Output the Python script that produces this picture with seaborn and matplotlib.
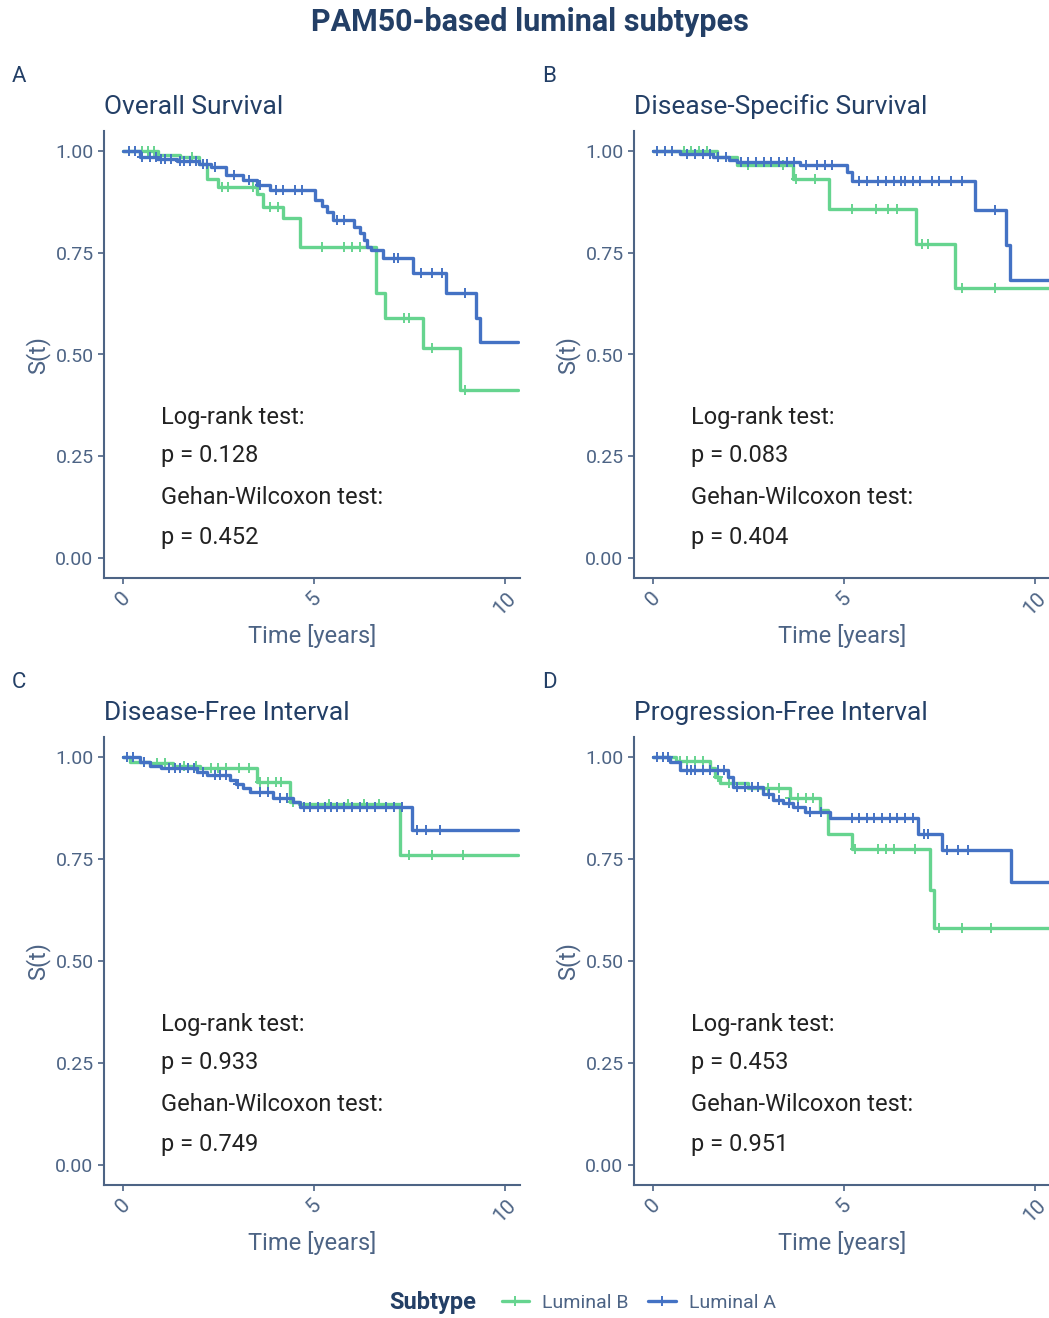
import numpy as np
import seaborn as sns
import matplotlib.pyplot as plt
from matplotlib.lines import Line2D

# ---- data (Kaplan-Meier steps + censor times) ----
os_a_t = [0, 0.45, 0.9, 1.4, 2.0, 2.3, 2.7, 3.15, 3.5, 3.85, 5.03, 5.2, 5.35, 5.5, 6.05, 6.2, 6.3, 6.4, 6.5, 6.8, 7.6, 8.47, 9.26, 9.35, 10.35]
os_a_s = [1.0, 0.986, 0.980, 0.975, 0.970, 0.962, 0.941, 0.929, 0.916, 0.904, 0.880, 0.865, 0.851, 0.830, 0.814, 0.798, 0.781, 0.765, 0.757, 0.737, 0.700, 0.651, 0.590, 0.531, 0.531]
os_a_c = [0.15, 0.3, 0.5, 0.7, 0.85, 1.0, 1.1, 1.25, 1.5, 1.6, 1.75, 1.9, 2.1, 2.2, 2.4, 2.9, 3.3, 3.6, 4.0, 4.2, 4.5, 4.7, 5.6, 5.8, 7.1, 7.2, 7.8, 8.1, 8.35, 8.95]
os_b_t = [0, 0.92, 1.5, 2.0, 2.19, 2.49, 3.5, 3.67, 4.19, 4.63, 6.64, 6.85, 7.86, 8.82, 10.35]
os_b_s = [1.0, 0.990, 0.985, 0.970, 0.933, 0.912, 0.896, 0.863, 0.835, 0.765, 0.651, 0.590, 0.516, 0.413, 0.413]
os_b_c = [0.5, 0.65, 0.8, 1.8, 2.6, 2.75, 3.4, 3.85, 4.05, 5.2, 5.8, 6.0, 6.2, 7.35, 7.5, 8.1, 8.95]

dss_a_t = [0, 0.71, 1.57, 2.0, 2.19, 3.85, 5.07, 5.2, 8.43, 9.26, 9.35, 10.45]
dss_a_s = [1.0, 0.993, 0.986, 0.978, 0.974, 0.966, 0.949, 0.927, 0.855, 0.769, 0.683, 0.683]
dss_a_c = [0.1, 0.3, 0.5, 0.9, 1.1, 1.3, 1.5, 1.7, 1.9, 2.3, 2.5, 2.7, 2.9, 3.1, 3.3, 3.5, 3.7, 4.0, 4.3, 4.5, 4.7,
           5.4, 5.6, 5.9, 6.1, 6.3, 6.5, 6.6, 6.8, 7.0, 7.3, 7.5, 7.8, 8.1, 8.95]
dss_b_t = [0, 1.67, 2.2, 3.67, 4.61, 6.9, 7.9, 10.45]
dss_b_s = [1.0, 0.986, 0.966, 0.933, 0.857, 0.771, 0.663, 0.663]
dss_b_c = [0.8, 1.0, 1.2, 1.4, 2.5, 3.4, 3.75, 4.25, 5.2, 5.85, 6.15, 6.4, 7.05, 7.2, 8.1, 8.97]

dfi_a_t = [0, 0.45, 0.7, 1.0, 1.93, 2.2, 2.8, 2.95, 3.15, 3.32, 3.93, 4.46, 4.63, 7.56, 10.35]
dfi_a_s = [1.0, 0.989, 0.980, 0.973, 0.964, 0.956, 0.944, 0.935, 0.924, 0.915, 0.899, 0.890, 0.878, 0.821, 0.821]
dfi_a_c = [0.1, 0.25, 0.55, 1.2, 1.35, 1.5, 1.7, 1.85, 2.1, 2.4, 2.55, 2.7, 3.0, 3.6, 3.8, 4.1, 4.3, 4.75, 4.9,
           5.1, 5.3, 5.45, 5.6, 5.8, 6.0, 6.2, 6.4, 6.6, 6.9, 7.1, 7.3, 7.7, 7.95, 8.3]
dfi_b_t = [0, 0.18, 0.7, 1.3, 2.02, 3.5, 4.37, 4.6, 7.25, 10.35]
dfi_b_s = [1.0, 0.989, 0.985, 0.980, 0.973, 0.940, 0.890, 0.885, 0.760, 0.760]
dfi_b_c = [0.9, 1.1, 1.6, 1.9, 2.3, 2.5, 2.7, 3.05, 3.3, 3.6, 3.8, 4.0, 4.15, 4.45, 5.4, 5.9, 6.3, 6.7, 7.5, 8.1, 8.9]

pfi_a_t = [0, 0.45, 0.71, 1.97, 2.1, 2.88, 3.15, 3.4, 3.67, 3.98, 4.63, 6.94, 7.56, 9.39, 10.45]
pfi_a_s = [1.0, 0.989, 0.968, 0.952, 0.927, 0.911, 0.895, 0.887, 0.878, 0.866, 0.850, 0.813, 0.772, 0.694, 0.694]
pfi_a_c = [0.1, 0.25, 0.4, 0.9, 1.0, 1.1, 1.3, 1.5, 1.7, 1.85, 2.2, 2.4, 2.6, 2.75, 3.05, 3.3, 3.55, 3.8, 4.1, 4.4,
           5.2, 5.4, 5.6, 5.8, 6.0, 6.2, 6.4, 6.6, 6.8, 7.1, 7.2, 7.7, 8.0, 8.25]
pfi_b_t = [0, 0.6, 1.49, 1.62, 1.75, 2.5, 3.59, 4.37, 4.58, 5.2, 7.25, 7.36, 10.45]
pfi_b_s = [1.0, 0.990, 0.973, 0.952, 0.936, 0.924, 0.899, 0.870, 0.813, 0.775, 0.674, 0.580, 0.580]
pfi_b_c = [0.7, 0.9, 1.1, 1.3, 1.7, 2.0, 3.0, 3.3, 3.6, 3.8, 4.0, 4.2, 5.3, 5.9, 6.1, 6.3, 6.85, 7.5, 8.1, 8.85]

panel_letters = ['A', 'B', 'C', 'D']
panel_titles = ['Overall Survival', 'Disease-Specific Survival', 'Disease-Free Interval', 'Progression-Free Interval']
logrank_p = ['0.128', '0.083', '0.933', '0.453']
gehan_p = ['0.452', '0.404', '0.749', '0.951']
subtypes = ['Luminal B', 'Luminal A']

curves = [
    ((os_b_t, os_b_s, os_b_c), (os_a_t, os_a_s, os_a_c)),
    ((dss_b_t, dss_b_s, dss_b_c), (dss_a_t, dss_a_s, dss_a_c)),
    ((dfi_b_t, dfi_b_s, dfi_b_c), (dfi_a_t, dfi_a_s, dfi_a_c)),
    ((pfi_b_t, pfi_b_s, pfi_b_c), (pfi_a_t, pfi_a_s, pfi_a_c)),
]

GREEN = '#66d48f'
BLUE = '#4472c4'
AXCOL = '#4d6485'
NAVY = '#233f66'
colors = [GREEN, BLUE]

sns.set_style('white')
plt.rcParams['font.family'] = ['Liberation Sans Narrow', 'Roboto', 'DejaVu Sans']

W, H = 1049, 1318
fig = plt.figure(figsize=(W / 100, H / 100), dpi=100)


def fx(x):
    return x / W


def fy(y):
    return 1 - y / H


# axes boxes in pixels: left, top, right, bottom
boxes = [(104, 131, 520, 578), (634, 131, 1050, 578), (104, 737, 520, 1185), (634, 737, 1050, 1185)]

for i, (l, t, r, b) in enumerate(boxes):
    ax = fig.add_axes([fx(l), fy(b), fx(r - l), (b - t) / H])
    for (ct, cs, cc), col in zip(curves[i], colors):
        sns.lineplot(x=ct, y=cs, drawstyle='steps-post', estimator=None, sort=False,
                     color=col, lw=2.4, ax=ax)
        idx = np.searchsorted(ct, cc, side='right') - 1
        cy = np.asarray(cs)[idx]
        ax.plot(cc, cy, ls='none', marker='+', ms=7, mew=1.4, color=col)
    ax.set_xlim(-0.5, 10.4)
    ax.set_ylim(-0.05, 1.05)
    ax.set_xticks([0, 5, 10])
    ax.set_yticks([0, 0.25, 0.5, 0.75, 1.0])
    ax.set_yticklabels(['0.00', '0.25', '0.50', '0.75', '1.00'])
    ax.tick_params(colors=AXCOL, labelsize=14, length=4, width=1.2, left=True, bottom=True)
    ax.tick_params(axis='x', labelsize=15)
    for lab in ax.get_xticklabels():
        lab.set_rotation(45)
        lab.set_ha('center')
        lab.set_va('top')
    for s in ['top', 'right']:
        ax.spines[s].set_visible(False)
    for s in ['left', 'bottom']:
        ax.spines[s].set_color(AXCOL)
        ax.spines[s].set_linewidth(1.5)
    ax.set_xlabel('Time [years]', color=AXCOL, fontsize=17, labelpad=4)
    ax.set_ylabel('S(t)', color=AXCOL, fontsize=17, labelpad=4)
    ax.set_title(panel_titles[i], loc='left', color=NAVY, fontsize=19, pad=12)
    fig.text(fx(l - 92), fy(t - 55), panel_letters[i], color=NAVY, fontsize=16, va='center', ha='left')
    txt_kw = dict(color='#222222', fontsize=17, va='center', ha='left')
    ax.text(1.0, 0.344, 'Log-rank test:', **txt_kw)
    ax.text(1.0, 0.251, 'p = ' + logrank_p[i], **txt_kw)
    ax.text(1.0, 0.148, 'Gehan-Wilcoxon test:', **txt_kw)
    ax.text(1.0, 0.049, 'p = ' + gehan_p[i], **txt_kw)

fig.text(fx(530), fy(22), 'PAM50-based luminal subtypes', ha='center', va='center',
         fontsize=22, fontweight='bold', color=NAVY)

fig.text(fx(433), fy(1303), 'Subtype', ha='center', va='center', fontsize=17,
         fontweight='bold', color=NAVY)
handles = [Line2D([], [], color=c, lw=2.4, marker='+', ms=7, mew=1.4) for c in colors]
fig.legend(handles, subtypes, loc='center left', bbox_to_anchor=(fx(484), fy(1303)), ncol=2,
           frameon=False, fontsize=14, labelcolor=AXCOL, handlelength=1.4, columnspacing=1.0,
           handletextpad=0.7)

fig.savefig('out.png', dpi=100)
